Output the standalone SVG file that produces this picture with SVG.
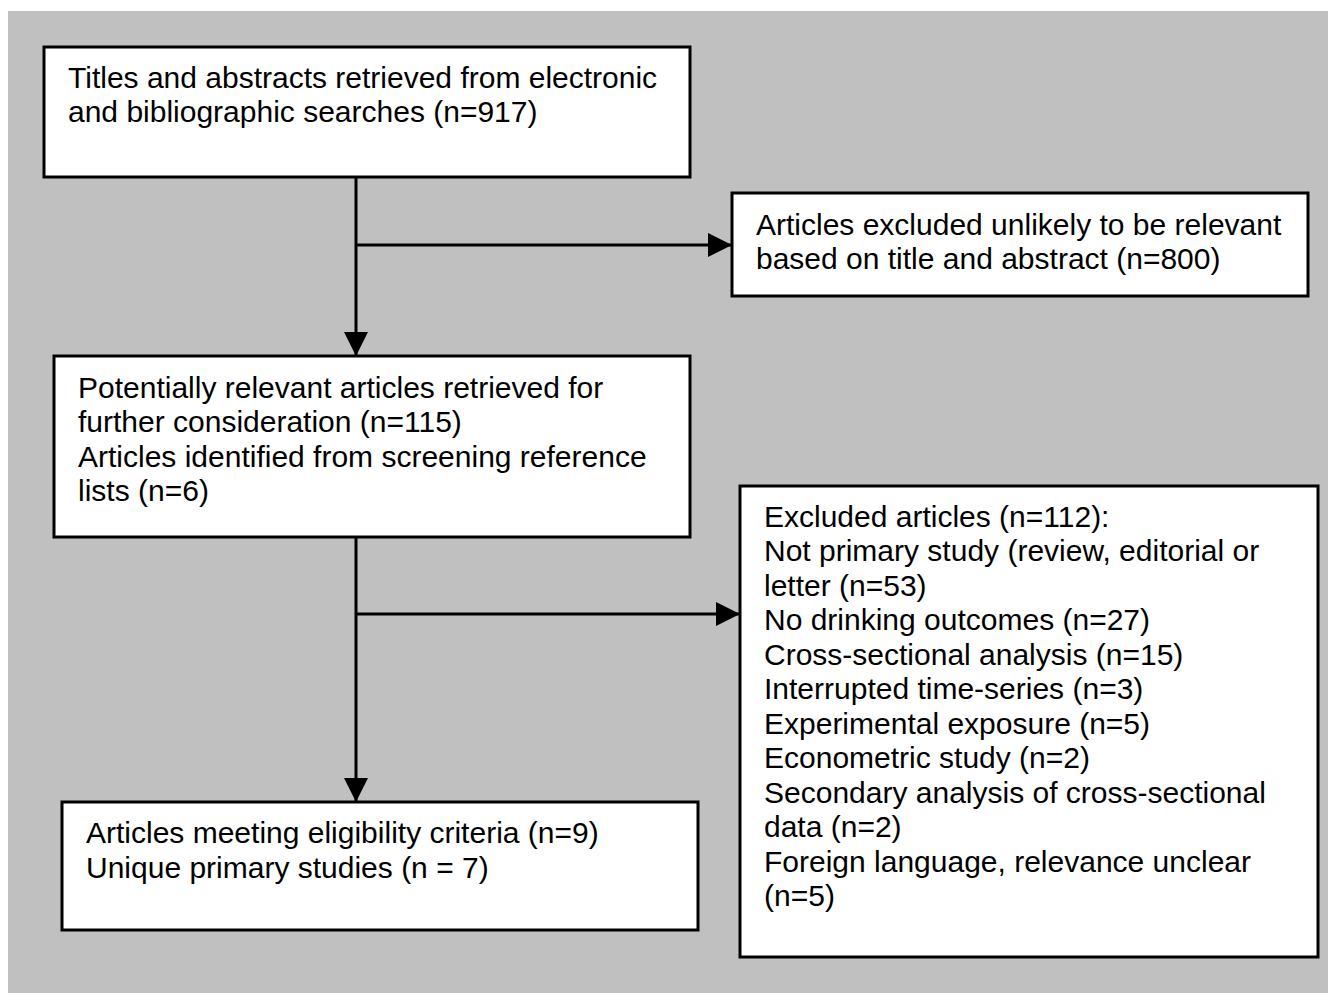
<svg xmlns="http://www.w3.org/2000/svg" width="1328" height="993" viewBox="0 0 1328 993">
<style>
.box{fill:#ffffff;stroke:#000000;stroke-width:3}
.t{font-family:"Liberation Sans",Arial,sans-serif;font-size:30px;fill:#000000}
.ln{stroke:#000000;stroke-width:3;fill:none}
</style>
<defs>
<marker id="ah" viewBox="0 0 24 24" refX="24" refY="12" markerWidth="24" markerHeight="24" markerUnits="userSpaceOnUse" orient="auto">
<path d="M0,0 L24,12 L0,24 Z" fill="#000000"/>
</marker>
</defs>
<rect x="0" y="0" width="1328" height="993" fill="#ffffff"/>
<rect x="8" y="11" width="1320" height="982" fill="#c0c0c0"/>
<g id="connectors">
<line class="ln" x1="356" y1="177" x2="356" y2="356" marker-end="url(#ah)"/>
<line class="ln" x1="356" y1="245" x2="732" y2="245" marker-end="url(#ah)"/>
<line class="ln" x1="356" y1="537" x2="356" y2="802" marker-end="url(#ah)"/>
<line class="ln" x1="356" y1="614" x2="740" y2="614" marker-end="url(#ah)"/>
</g>
<g id="n1">
<rect class="box" x="44" y="47" width="646" height="130"/>
<text class="t" x="68" y="88">Titles and abstracts retrieved from electronic</text>
<text class="t" x="68" y="122">and bibliographic searches (n=917)</text>
</g>
<g id="n2">
<rect class="box" x="732" y="193" width="576" height="103"/>
<text class="t" x="756" y="235">Articles excluded unlikely to be relevant</text>
<text class="t" x="756" y="269">based on title and abstract (n=800)</text>
</g>
<g id="n3">
<rect class="box" x="54" y="356" width="636" height="181"/>
<text class="t" x="78" y="398">Potentially relevant articles retrieved for</text>
<text class="t" x="78" y="432">further consideration (n=115)</text>
<text class="t" x="78" y="467">Articles identified from screening reference</text>
<text class="t" x="78" y="501">lists (n=6)</text>
</g>
<g id="n4">
<rect class="box" x="740" y="486" width="578" height="471"/>
<text class="t" x="764" y="527">Excluded articles (n=112):</text>
<text class="t" x="764" y="561">Not primary study (review, editorial or</text>
<text class="t" x="764" y="596">letter (n=53)</text>
<text class="t" x="764" y="630">No drinking outcomes (n=27)</text>
<text class="t" x="764" y="665">Cross-sectional analysis (n=15)</text>
<text class="t" x="764" y="699">Interrupted time-series (n=3)</text>
<text class="t" x="764" y="734">Experimental exposure (n=5)</text>
<text class="t" x="764" y="768">Econometric study (n=2)</text>
<text class="t" x="764" y="803">Secondary analysis of cross-sectional</text>
<text class="t" x="764" y="837">data (n=2)</text>
<text class="t" x="764" y="872">Foreign language, relevance unclear</text>
<text class="t" x="764" y="906">(n=5)</text>
</g>
<g id="n5">
<rect class="box" x="62" y="802" width="636" height="128"/>
<text class="t" x="86" y="843">Articles meeting eligibility criteria (n=9)</text>
<text class="t" x="86" y="878">Unique primary studies (n = 7)</text>
</g>
</svg>
